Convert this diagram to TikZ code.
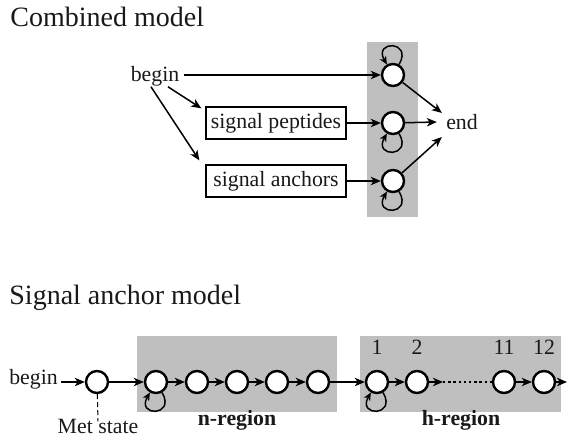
\documentclass[tikz,border=0pt]{standalone}
\usepackage{fontspec}
\setmainfont{Liberation Serif}
\usetikzlibrary{arrows.meta,calc}
\begin{document}
\begin{tikzpicture}[x=0.5pt,y=0.5pt,
  every node/.style={font=\fontsize{10.9}{12}\selectfont, inner sep=0pt, text=black!90},
  title/.style={font=\fontsize{14}{16}\selectfont, anchor=base west},
  st/.style={circle, draw, line width=1.2pt, fill=white, minimum size=11pt, inner sep=0pt},
  box/.style={draw, line width=0.65pt, minimum width=70pt, minimum height=16pt, fill=white},
  arr/.style={line width=0.75pt, -{Stealth[length=5pt,width=4.2pt,inset=1.4pt]}},
  lp/.style={line width=0.75pt, -{Stealth[length=4pt,width=3.6pt,inset=1.2pt]}, min distance=14pt},
  region/.style={fill=black!25, draw=none},
  lbl/.style={font=\fontsize{10.9}{12}\selectfont\bfseries, anchor=base},
  dots/.style={line width=0.7pt, dash pattern=on 1.2pt off 1.4pt},
  guide/.style={line width=0.5pt, dash pattern=on 2.5pt off 1.5pt}
]
\useasboundingbox (0,0) rectangle (568,-438);

% ---------- Combined model ----------
\fill[region] (367,-42) rectangle (418,-217);
\node[title] (t1) at (10,-27) {Combined model};
\node (b1) at (155,-76.5) {begin};
\node[st] (c1) at (393,-75) {};
\node[st] (c2) at (393,-123) {};
\node[st] (c3) at (393,-181) {};
\node[box] (sp) at (276,-123) {signal peptides};
\node[box] (sa) at (276,-181) {signal anchors};
\node (e1) at (462,-122) {end};

\draw[arr, shorten <=2pt] (b1.east |- c1) -- (c1);
\draw[arr] ([xshift=6.5pt]b1.south) -- ([shift={(-2pt,-1pt)}]sp.north west);
\draw[arr] ([xshift=-2pt]b1.south) -- ([shift={(-3pt,2pt)}]sa.north west);
\draw[arr] (sp) -- (c2);
\draw[arr] (sa) -- (c3);
\draw[arr] (c1) -- ([shift={(-2pt,0.5pt)}]e1.north west);
\draw[arr] (c2) -- ([xshift=-4.5pt]e1.west);
\draw[arr] (c3) -- ([shift={(-2pt,-3.5pt)}]e1.south west);
\draw[lp] (c1) to[out=60,in=120] (c1);
\draw[lp] (c2) to[out=-60,in=-120] (c2);
\draw[lp] (c3) to[out=-60,in=-120] (c3);

% ---------- Signal anchor model ----------
\node[title] (t2) at (9,-305) {Signal anchor model};
\fill[region] (137,-336) rectangle (337,-412);
\fill[region] (360,-336) rectangle (561,-412);
\node (b2) at (33.5,-379) {begin};
\node[st] (m) at (97,-382) {};
\node[st] (n1) at (156,-382) {};
\node[st] (n2) at (197,-382) {};
\node[st] (n3) at (237,-382) {};
\node[st] (n4) at (277,-382) {};
\node[st] (n5) at (318,-382) {};
\node[st] (h1) at (377,-382) {};
\node[st] (h2) at (417,-382) {};
\node[st] (h11) at (504,-382) {};
\node[st] (h12) at (544,-382) {};
\coordinate (d1) at (443,-382);
\coordinate (out) at (567,-382);
\node[anchor=base] (l1) at (377,-355) {1};
\node[anchor=base] (l2) at (417,-355) {2};
\node[anchor=base] (l11) at (504,-355) {11};
\node[anchor=base] (l12) at (544,-355) {12};
\node[anchor=base] (ms) at (98,-433) {Met state};
\node[lbl] (nr) at (237,-426) {n-region};
\node[lbl] (hr) at (461,-426) {h-region};

\draw[arr, shorten <=1.5pt] (b2.east |- m) -- (m);
\draw[guide] (m) -- ([yshift=-1.5pt]ms.north);
\draw[arr] (m) -- (n1);
\draw[arr] (n1) -- (n2);
\draw[arr] (n2) -- (n3);
\draw[arr] (n3) -- (n4);
\draw[arr] (n4) -- (n5);
\draw[arr] (n5) -- (h1);
\draw[arr] (h1) -- (h2);
\draw[arr] (h2) -- (d1);
\draw[dots] (d1) -- (h11);
\draw[arr] (h11) -- (h12);
\draw[arr] (h12) -- (out);
\draw[lp] (n1) to[out=-60,in=-120] (n1);
\draw[lp] (h1) to[out=-60,in=-120] (h1);
\end{tikzpicture}
\end{document}
